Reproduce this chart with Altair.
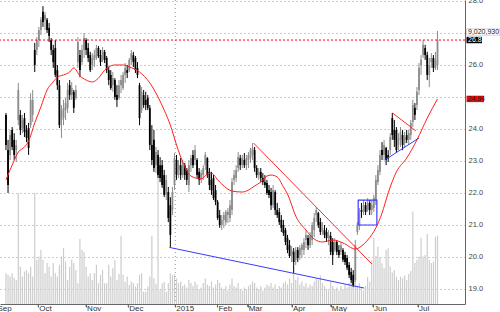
import altair as alt
import pandas as pd

# ---------------- data ----------------
HIGH = [24.50, 23.66, 23.97, 24.06, 23.87, 23.66, 25.44, 24.59, 24.44, 24.50,
        24.12, 24.19, 25.12, 25.22, 26.69, 26.87, 27.19, 27.50, 27.84, 27.66,
        27.47, 27.31, 26.84, 26.63, 26.78, 26.00, 25.53, 24.75, 24.91, 24.97,
        25.44, 25.53, 25.47, 25.22, 25.37, 26.87, 26.47, 26.63, 27.00, 26.84,
        26.69, 26.41, 26.37, 26.47, 26.63, 26.59, 26.47, 26.56, 26.47, 26.28,
        25.94, 25.84, 25.78, 25.59, 25.37, 25.53, 25.69, 25.78, 26.06, 26.00,
        26.22, 26.47, 26.41, 26.28, 26.09, 25.44, 25.31, 25.22, 25.16, 25.06,
        24.75, 24.12, 23.97, 23.44, 23.34, 23.12, 23.03, 22.72, 22.56, 22.19,
        21.87, 22.19, 23.25, 23.19, 23.03, 23.09, 23.03, 22.94, 22.78, 23.03,
        23.19, 23.34, 23.50, 23.09, 22.78, 22.72, 22.87, 23.28, 23.12, 22.78,
        22.66, 22.56, 22.25, 21.78, 21.47, 21.31, 21.41, 21.47, 21.53, 21.78,
        22.47, 22.72, 22.87, 23.28, 23.19, 23.19, 23.25, 23.19, 23.28, 23.41,
        23.56, 23.44, 22.87, 22.78, 22.78, 22.62, 22.56, 22.41, 22.25, 22.16,
        22.25, 22.09, 21.69, 21.53, 21.31, 21.16, 20.91, 20.69, 20.53, 20.34,
        20.28, 20.31, 20.31, 20.37, 20.44, 20.59, 20.84, 20.69, 20.78, 21.09,
        21.37, 21.56, 21.41, 21.22, 21.09, 21.00, 20.91, 20.84, 20.78, 20.59,
        20.59, 20.53, 20.37, 20.47, 20.28, 20.16, 20.06, 19.84, 19.66, 19.59,
        20.53, 21.09, 21.53, 21.69, 21.78, 21.72, 21.84, 21.78, 21.78, 21.94,
        22.56, 22.87, 23.34, 23.59, 23.66, 23.44, 23.34, 23.87, 24.50, 24.28,
        24.06, 23.87, 24.06, 23.97, 23.91, 23.97, 23.97, 24.28, 24.91, 24.81,
        25.31, 26.06, 26.31, 26.78, 26.63, 26.41, 26.22, 26.37, 26.31, 26.41, 27.06]

LOW = [23.34, 22.00, 23.03, 23.34, 23.03, 22.97, 24.12, 23.81, 23.87, 23.75,
       23.59, 23.19, 24.03, 24.22, 25.78, 26.31, 26.56, 26.94, 27.19, 27.09,
       27.00, 26.72, 26.31, 25.91, 25.62, 25.22, 24.03, 23.72, 24.12, 24.28,
       24.50, 24.91, 24.91, 24.50, 24.91, 25.91, 25.62, 26.00, 26.22, 26.31,
       26.09, 25.78, 25.84, 25.94, 26.16, 26.22, 25.97, 26.09, 26.06, 25.75,
       25.37, 25.22, 25.16, 24.91, 24.69, 24.91, 25.12, 25.22, 25.44, 25.59,
       25.78, 26.00, 25.94, 25.75, 25.59, 24.12, 24.50, 24.66, 24.59, 24.59,
       23.34, 22.87, 22.66, 22.62, 22.47, 22.34, 22.16, 21.87, 21.78, 21.09,
       20.31, 21.31, 22.09, 22.41, 22.47, 22.41, 22.47, 22.41, 22.25, 22.03,
       22.66, 22.78, 22.87, 22.47, 22.25, 22.31, 22.41, 22.72, 22.47, 22.09,
       21.94, 21.78, 21.62, 21.16, 20.91, 20.84, 20.91, 21.00, 21.06, 21.09,
       21.31, 22.25, 22.34, 22.66, 22.72, 22.78, 22.78, 22.72, 22.78, 22.94,
       23.03, 22.66, 22.47, 22.41, 22.34, 22.25, 22.16, 21.94, 21.84, 21.47,
       21.53, 21.31, 21.22, 21.00, 20.78, 20.66, 20.37, 20.12, 19.97, 19.84,
       19.50, 19.75, 19.84, 19.91, 19.97, 20.06, 20.28, 20.22, 20.28, 20.37,
       20.62, 21.09, 20.91, 20.69, 20.69, 20.59, 20.47, 20.37, 20.06, 19.75,
       20.16, 20.06, 19.97, 20.06, 19.84, 19.75, 19.59, 19.34, 19.19, 19.06,
       19.22, 20.69, 20.84, 21.22, 21.31, 21.31, 21.41, 21.31, 21.31, 21.41,
       21.62, 22.25, 22.56, 23.03, 23.03, 22.87, 22.97, 23.19, 23.66, 23.44,
       23.25, 23.34, 23.44, 23.34, 23.41, 23.56, 23.50, 23.66, 24.06, 24.28,
       24.59, 25.06, 25.69, 26.22, 26.16, 25.53, 25.31, 25.91, 25.78, 25.84, 25.84]

OPEN = [24.44, 23.34, 23.19, 23.97, 23.66, 23.34, 24.28, 24.44, 24.03, 24.34,
        23.97, 24.03, 24.12, 24.44, 26.47, 26.47, 26.78, 27.09, 27.66, 27.41,
        27.41, 27.16, 26.78, 26.47, 26.53, 25.84, 25.37, 24.28, 24.34, 24.59,
        24.66, 25.37, 25.06, 25.16, 24.97, 26.09, 26.31, 26.09, 26.47, 26.78,
        26.53, 26.31, 26.00, 26.16, 26.22, 26.53, 26.31, 26.16, 26.41, 26.22,
        25.84, 25.69, 25.37, 25.53, 25.06, 24.97, 25.37, 25.28, 25.69, 25.84,
        25.84, 26.16, 26.31, 26.22, 25.91, 25.37, 24.59, 25.06, 24.91, 24.97,
        24.66, 23.50, 23.66, 22.87, 23.19, 22.87, 22.87, 22.56, 21.94, 22.03,
        21.62, 21.47, 22.25, 23.03, 22.72, 22.87, 22.56, 22.87, 22.72, 22.25,
        22.87, 23.19, 23.03, 23.03, 22.66, 22.41, 22.56, 22.87, 23.09, 22.66,
        22.41, 22.47, 22.09, 21.72, 21.31, 21.00, 21.16, 21.09, 21.31, 21.22,
        21.47, 22.41, 22.47, 22.78, 23.09, 22.87, 23.03, 22.87, 23.03, 23.09,
        23.19, 23.34, 22.78, 22.56, 22.66, 22.47, 22.34, 22.31, 22.09, 22.03,
        21.62, 22.03, 21.47, 21.41, 21.16, 21.00, 20.84, 20.59, 20.37, 20.06,
        20.16, 19.91, 20.22, 20.06, 20.22, 20.22, 20.53, 20.59, 20.37, 20.53,
        20.84, 21.31, 21.37, 21.09, 20.84, 20.84, 20.78, 20.59, 20.66, 20.47,
        20.22, 20.47, 20.22, 20.16, 20.22, 20.06, 19.97, 19.75, 19.53, 19.44,
        19.28, 20.78, 21.00, 21.47, 21.41, 21.62, 21.47, 21.69, 21.47, 21.53,
        21.78, 22.34, 22.66, 23.34, 23.19, 23.41, 23.19, 23.34, 24.34, 23.97,
        23.97, 23.50, 23.66, 23.81, 23.56, 23.81, 23.66, 23.81, 24.22, 24.66,
        24.75, 25.22, 26.00, 26.31, 26.53, 26.31, 25.69, 26.09, 26.22, 25.91, 26.00]

CLOSE = [23.50, 22.25, 23.81, 23.44, 23.19, 23.50, 25.22, 23.97, 24.28, 23.91,
         23.72, 23.41, 24.91, 24.91, 26.00, 26.78, 27.09, 27.41, 27.34, 27.56,
         27.09, 26.91, 26.47, 26.09, 25.69, 25.37, 24.12, 24.59, 24.66, 24.81,
         25.22, 25.06, 25.28, 24.66, 25.22, 26.72, 25.84, 26.47, 26.84, 26.47,
         26.22, 25.84, 26.22, 26.31, 26.53, 26.28, 26.09, 26.47, 26.16, 25.84,
         25.53, 25.28, 25.59, 25.00, 24.91, 25.37, 25.53, 25.69, 25.91, 25.75,
         26.16, 26.37, 26.09, 25.84, 25.69, 24.34, 25.16, 24.75, 24.75, 24.66,
         23.50, 23.03, 22.78, 23.28, 22.56, 22.47, 22.25, 21.94, 22.41, 21.22,
         20.69, 22.03, 23.09, 22.56, 22.87, 22.56, 22.87, 22.56, 22.41, 22.87,
         23.09, 22.87, 23.34, 22.56, 22.41, 22.62, 22.78, 23.19, 22.56, 22.25,
         22.09, 21.84, 21.72, 21.22, 21.00, 21.16, 21.31, 21.41, 21.41, 21.62,
         22.34, 22.56, 22.72, 23.12, 22.87, 23.09, 22.87, 23.09, 23.19, 23.34,
         23.41, 22.78, 22.56, 22.66, 22.47, 22.34, 22.25, 22.00, 21.94, 21.62,
         22.09, 21.47, 21.31, 21.09, 20.91, 20.75, 20.47, 20.22, 20.03, 20.22,
         19.84, 20.22, 19.97, 20.28, 20.37, 20.47, 20.69, 20.37, 20.66, 21.00,
         21.22, 21.47, 21.00, 20.78, 20.91, 20.69, 20.59, 20.69, 20.16, 20.06,
         20.47, 20.16, 20.06, 20.37, 19.91, 19.84, 19.66, 19.44, 19.28, 19.12,
         20.37, 21.00, 21.41, 21.41, 21.62, 21.41, 21.69, 21.47, 21.62, 21.84,
         22.41, 22.72, 23.19, 23.19, 23.50, 23.03, 23.09, 23.75, 23.81, 23.66,
         23.34, 23.72, 23.91, 23.50, 23.75, 23.66, 23.87, 24.19, 24.75, 24.44,
         25.16, 25.91, 26.16, 26.63, 26.31, 25.69, 26.00, 26.22, 25.91, 26.16, 26.78]

VOLUME = [1.02, 0.97, 0.91, 1.02, 0.87, 0.80, 3.69, 1.24, 0.91, 1.08,
          1.13, 1.02, 1.24, 0.91, 3.69, 1.47, 1.58, 1.80, 1.47, 1.02,
          1.36, 1.24, 0.91, 1.36, 1.02, 0.91, 1.30, 1.58, 1.86, 1.41,
          0.80, 1.24, 1.47, 1.36, 1.13, 0.69, 2.16, 1.80, 1.74, 1.24,
          0.91, 1.02, 0.80, 1.02, 1.30, 0.69, 0.97, 1.13, 0.69, 0.69,
          1.30, 0.91, 1.19, 1.47, 0.80, 1.00, 2.27, 0.97, 0.74, 0.91,
          0.63, 0.74, 0.69, 0.58, 0.69, 0.97, 1.02, 0.41, 0.41, 0.58,
          0.91, 2.27, 0.86, 0.67, 4.45, 0.47, 0.69, 0.74, 0.41, 0.69,
          1.02, 0.95, 1.00, 0.85, 0.70, 0.75, 0.60, 0.65, 0.55, 0.80,
          0.70, 0.60, 0.75, 0.65, 0.50, 0.55, 0.70, 0.85, 0.65, 0.60,
          0.75, 0.55, 0.65, 0.80, 0.70, 0.55, 0.50, 0.60, 0.45, 0.65,
          0.85, 0.60, 0.55, 0.70, 0.50, 0.45, 0.55, 0.50, 0.60, 0.65,
          0.75, 0.70, 0.55, 0.50, 0.60, 0.45, 0.55, 0.65, 0.60, 0.70,
          0.55, 0.65, 0.50, 0.60, 0.55, 0.70, 0.75, 0.65, 0.85, 0.70,
          1.00, 0.80, 0.90, 0.65, 0.75, 0.60, 0.70, 0.55, 0.65, 0.60,
          0.75, 0.85, 0.80, 0.95, 0.70, 0.60, 0.50, 0.45, 0.75, 0.60,
          0.50, 0.55, 0.45, 0.60, 0.50, 0.65, 0.55, 0.70, 0.80, 0.90,
          0.80, 0.60, 0.70, 0.55, 0.45, 0.60, 0.90, 0.75, 1.45, 2.20,
          1.60, 1.90, 1.55, 1.35, 1.20, 1.80, 1.85, 1.25, 1.05, 1.13,
          0.90, 0.80, 0.91, 0.85, 0.95, 0.80, 1.00, 1.10, 3.07, 1.36,
          1.47, 1.58, 2.20, 1.58, 1.63, 2.33, 1.47, 1.36, 1.40, 2.23, 2.27]

MA_IDX = [0, 3, 6, 9, 11, 14, 17, 20, 23, 25, 28, 31, 33, 36, 39, 42, 45, 48, 50, 53,
          57, 60, 65, 70, 74, 77, 80, 83, 86, 90, 95, 98, 100, 103, 105, 110, 115, 118, 121, 124,
          127, 129, 132, 135, 137, 141, 146, 150, 154, 159, 164, 170, 173, 176, 180, 183, 186, 190, 195, 200,
          205, 210]
MA_VAL = [22.41, 22.87, 23.28, 23.44, 23.62, 24.19, 24.69, 25.22, 25.47, 25.62,
          25.69, 25.78, 25.91, 25.66, 25.53, 25.47, 25.59, 25.84, 25.94, 26.00,
          26.00, 25.94, 25.78, 25.44, 25.00, 24.59, 24.12, 23.50, 22.97, 22.53,
          22.44, 22.59, 22.62, 22.41, 22.28, 22.06, 22.03, 22.09, 22.22, 22.34,
          22.53, 22.56, 22.50, 22.19, 21.97, 21.28, 20.84, 20.56, 20.47, 20.53,
          20.44, 20.25, 20.34, 20.53, 20.91, 21.37, 22.00, 22.66, 23.09, 23.66,
          24.34, 24.94]

MONTHS = ["Sep", "Oct", "Nov", "Dec", "2015", "Feb", "Mar", "Apr", "May", "Jun", "Jul"]
MONTH_POS = [-4.6, 15.7, 39.0, 59.5, 82.4, 102.9, 117.6, 139.2, 158.1, 178.6, 200.5]
YEAR_POS = [82.4]
Y_TICKS = [19, 20, 21, 22, 23, 24, 25, 26, 27, 28]

# trend lines: (group, index, price)
TL_GROUP = ["r1", "r1", "r2", "r2", "b1", "b1", "b2", "b2"]
TL_IDX = [120.5, 178.1, 188.1, 199.5, 79.5, 174.3, 184.3, 201.0]
TL_PRICE = [23.56, 19.78, 24.50, 23.94, 20.30, 19.03, 23.03, 23.72]
TL_COLOR = ["#ff2a2a", "#ff2a2a", "#ff2a2a", "#ff2a2a", "#3a3aff", "#3a3aff", "#3a3aff", "#3a3aff"]
BOX_IDX = [171.4, 180.5]
BOX_PRICE = [21.00, 21.78]
VOL_LABEL = "9,020,930"

# ---------------- chart ----------------
df = pd.DataFrame({"i": list(range(len(CLOSE))), "open": OPEN, "high": HIGH,
                   "low": LOW, "close": CLOSE, "vol": VOLUME})
df["col"] = ["#000000" if c < o else "#8c8c8c" for o, c in zip(OPEN, CLOSE)]
ma_df = pd.DataFrame({"i": MA_IDX, "ma": MA_VAL})
tl_df = pd.DataFrame({"g": TL_GROUP, "i": TL_IDX, "p": TL_PRICE, "c": TL_COLOR})
box_df = pd.DataFrame({"i": [BOX_IDX[0]], "i2": [BOX_IDX[1]],
                       "p": [BOX_PRICE[0]], "p2": [BOX_PRICE[1]]})
mon_df = pd.DataFrame({"i": MONTH_POS, "m": MONTHS})
tick_df = pd.DataFrame({"i": MONTH_POS[1:]})
yr_df = pd.DataFrame({"i": YEAR_POS})
last_df = pd.DataFrame({"p": [CLOSE[-1]], "t": [f"{CLOSE[-1]:.1f}"]})
ma_last_df = pd.DataFrame({"p": [MA_VAL[-1]], "t": [f"{MA_VAL[-1]:.2f}"]})
vl_df = pd.DataFrame({"p": [27.03], "t": [VOL_LABEL]})

FONT = "Liberation Sans"
xs = alt.Scale(domain=[-0.476, 220.95], nice=False, zero=False)
ys = alt.Scale(domain=[18.531, 28.031], nice=False, zero=False)
vs = alt.Scale(domain=[0, 10.1], nice=False)

xaxis = alt.Axis(values=MONTH_POS[1:], labels=False, ticks=True, tickSize=3,
                 tickColor="#666", domainColor="#666", grid=False, title=None)
# the 25.0 and 27.0 labels sit under the red MA box and the volume box
yaxis = alt.Axis(orient="right", values=Y_TICKS, format=".1f", grid=True,
                 gridColor="#9a9a9a", gridDash=[1, 3], gridWidth=1, ticks=False,
                 labelPadding=3, labelFontSize=7.5, labelColor="#444", labelFont=FONT,
                 labelExpr="(datum.value == 25 || datum.value == 27) ? '' : datum.label",
                 domainColor="#666", title=None)


def X(f="i"):
    return alt.X(f"{f}:Q", scale=xs, axis=xaxis)


def Y(f):
    return alt.Y(f"{f}:Q", scale=ys, axis=yaxis)


vol = alt.Chart(df).mark_bar(size=1.2, color="#cdcdcd").encode(
    x=X(), y=alt.Y("vol:Q", scale=vs, axis=None))

yr = alt.Chart(yr_df).mark_rule(color="#9a9a9a", strokeDash=[1, 3]).encode(x=X())

wick = alt.Chart(df).mark_rule(strokeWidth=1).encode(
    x=X(), y=Y("low"), y2="high", color=alt.Color("col:N", scale=None))
body = alt.Chart(df).mark_bar(size=1.8).encode(
    x=X(), y=Y("open"), y2="close", color=alt.Color("col:N", scale=None))
ma = alt.Chart(ma_df).mark_line(color="#ff2020", strokeWidth=1, interpolate="monotone").encode(
    x=X(), y=Y("ma"))
tl = alt.Chart(tl_df).mark_line(strokeWidth=1).encode(
    x=X(), y=Y("p"), detail="g:N", color=alt.Color("c:N", scale=None))
box = alt.Chart(box_df).mark_rect(fillOpacity=0, stroke="#3a3aff", strokeWidth=1.2).encode(
    x=X(), x2="i2", y=Y("p"), y2="p2")
hline = alt.Chart(last_df).mark_rule(color="#ff0000", strokeDash=[2, 2], strokeWidth=1).encode(
    y=Y("p"))

ticks_m = alt.Chart(tick_df).mark_rule(color="#666").encode(
    x=X(), y=alt.value(304), y2=alt.value(307))
mon = alt.Chart(mon_df).mark_text(align="left", baseline="top", dx=1, fontSize=8,
                                  color="#333", font=FONT).encode(
    x=X(), y=alt.value(304.5), text="m:N")

# right gutter labels
HALF = 0.1
vl_bg = alt.Chart(vl_df).mark_rect(fill="white", stroke="#bbbbbb", strokeWidth=0.6).transform_calculate(
    lo=f"datum.p - {HALF}", hi=f"datum.p + {HALF}").encode(
    x=alt.value(466.5), x2=alt.value(500), y=Y("lo"), y2="hi:Q")
vl_txt = alt.Chart(vl_df).mark_text(align="left", baseline="middle", fontSize=7,
                                    color="#222", font=FONT).encode(
    x=alt.value(468), y=Y("p"), text="t:N")
last_bg = alt.Chart(last_df).mark_rect(fill="black").transform_calculate(
    lo=f"datum.p - {HALF}", hi=f"datum.p + {HALF}").encode(
    x=alt.value(466.5), x2=alt.value(482), y=Y("lo"), y2="hi:Q")
last_txt = alt.Chart(last_df).mark_text(align="left", baseline="middle", fontSize=7,
                                        color="white", font=FONT).encode(
    x=alt.value(468), y=Y("p"), text="t:N")
ma_bg = alt.Chart(ma_last_df).mark_rect(fill="#ff0000").transform_calculate(
    lo=f"datum.p - {HALF}", hi=f"datum.p + {HALF}").encode(
    x=alt.value(466.5), x2=alt.value(484), y=Y("lo"), y2="hi:Q")
ma_txt = alt.Chart(ma_last_df).mark_text(align="left", baseline="middle", fontSize=7,
                                         color="#222", font=FONT).encode(
    x=alt.value(467.5), y=Y("p"), text="t:N")

price = alt.layer(yr, wick, body, ma, tl, box, hline, ticks_m, mon,
                  vl_bg, vl_txt, last_bg, last_txt, ma_bg, ma_txt)

chart = alt.layer(vol, price).resolve_scale(y="independent").properties(
    width=465, height=304, autosize=alt.AutoSizeParams(type="none"),
    padding={"left": 0, "top": 0, "right": 35, "bottom": 8},
    background="white"
).configure_view(stroke=None)

chart.save("out.html", embed_options={"renderer": "svg", "actions": False})
